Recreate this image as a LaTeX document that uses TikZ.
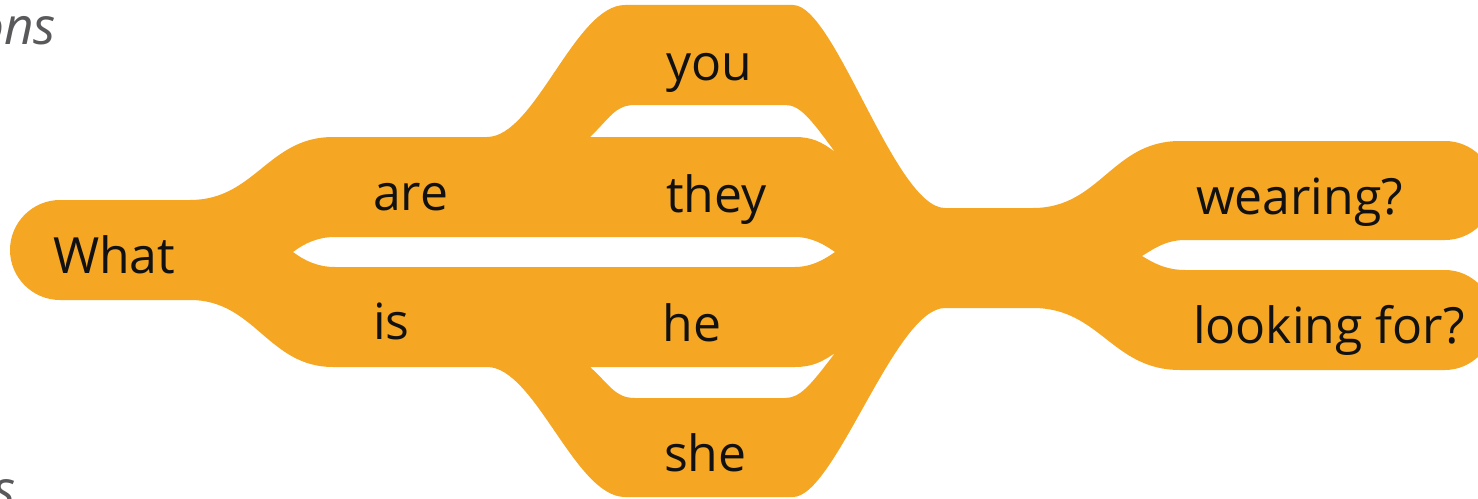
\documentclass[tikz,border=0pt]{standalone}
\usepackage{fontspec}
\setmainfont{Open Sans}
\definecolor{wdOrange}{HTML}{F5A623}
\definecolor{wdText}{HTML}{111111}
\definecolor{wdGrey}{HTML}{59595B}
\tikzset{
  blob/.style={fill=wdOrange, even odd rule},
  word/.style={
    anchor=base west, inner sep=0pt, outer sep=0pt, text=wdText,
    font=\fontsize{14.2}{17}\selectfont
  },
  cutword/.style={
    anchor=base east, inner sep=0pt, outer sep=0pt, text=wdGrey,
    font=\fontsize{14.6}{17}\selectfont\itshape
  }
}

\begin{document}
\begin{tikzpicture}[x=0.1mm, y=-0.1mm]
  \useasboundingbox (0,0) rectangle (1478,499);
  % outline of the sentence tree, holes cut by even odd rule
  \fill[blob]
    (60,200) -- (190,200)
    .. controls (255,200) and (268,137) .. (333,137) -- (487,137)
    .. controls (535,137) and (575,5) .. (625,5) -- (793,5)
    .. controls (835,5) and (895,208) .. (945,208) -- (1033,208)
    .. controls (1100,208) and (1112,141) .. (1180,141) -- (1445,141)
    .. controls (1472,141) and (1494.5,163) .. (1494.5,190.5)
    .. controls (1494.5,218) and (1472,240) .. (1445,240) -- (1185,240)
    .. controls (1165,240) and (1152,250) .. (1142,256)
    .. controls (1152,262) and (1165,270) .. (1185,270) -- (1445,270)
    .. controls (1472,270) and (1494.5,293) .. (1494.5,320)
    .. controls (1494.5,347) and (1472,370) .. (1445,370) -- (1180,370)
    .. controls (1112,370) and (1100,308) .. (1033,308) -- (945,308)
    .. controls (895,308) and (835,497) .. (793,497) -- (625,497)
    .. controls (575,497) and (535,367) .. (487,367) -- (333,367)
    .. controls (268,367) and (255,300) .. (190,300) -- (60,300)
    .. controls (32.5,300) and (10,277.5) .. (10,250)
    .. controls (10,222.5) and (32.5,200) .. (60,200) -- cycle
    % gap are/is and they/he
    (293,252) .. controls (305,243) and (318,237) .. (335,237) -- (795,237)
    .. controls (812,237) and (825,245) .. (835,252)
    .. controls (825,259) and (812,267) .. (795,267) -- (335,267)
    .. controls (318,267) and (305,261) .. (293,252) -- cycle
    % gap you/they
    (590,137) .. controls (610,118) and (615,105) .. (635,105) -- (785,105)
    .. controls (800,105) and (810,118) .. (835,152)
    .. controls (822,142) and (812,137) .. (795,137) -- cycle
    % gap he/she
    (590,367) .. controls (610,385) and (615,398) .. (635,398) -- (785,398)
    .. controls (800,398) and (810,386) .. (835,353)
    .. controls (822,362) and (812,367) .. (795,367) -- cycle;

  \node[word] (what) at (53,274) {What};
  \node[word] (are) at (373,210) {are};
  \node[word] (is) at (373,340) {is};
  \node[word] (you) at (666,80) {you};
  \node[word] (they) at (666,212) {they};
  \node[word] (he) at (663,342) {he};
  \node[word] (she) at (664,472) {she};
  \node[word] (wearing) at (1196,215) {wearing?};
  \node[word] (looking) at (1193,343) {looking for?};

  % clipped captions at the left border
  \node[cutword] (toptail) at (56,45) {ons};
  \node[cutword] (lowtail) at (16,508) {s};
\end{tikzpicture}
\end{document}
